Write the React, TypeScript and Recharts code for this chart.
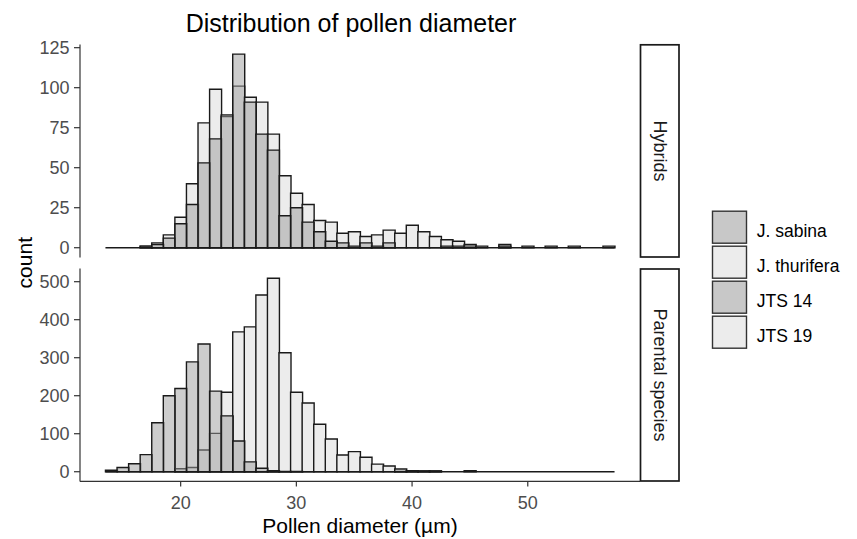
import { BarChart, Bar, XAxis, YAxis, ReferenceLine } from "recharts";

// histogram bins (centre of each 1 µm bin)
const bins = [
  14, 15, 16, 17, 18, 19, 20, 21, 22, 23, 24, 25, 26, 27, 28, 29, 30, 31, 32, 33, 34, 35,
  36, 37, 38, 39, 40, 41, 42, 43, 44, 45, 46, 47, 48, 49, 50, 51, 52, 53, 54, 55, 56, 57,
];

// Hybrids panel
const jts14 = [
  0, 0, 0, 1, 2, 6, 15, 27, 53, 68, 83, 121, 91, 71, 61, 20, 25, 16, 10, 4, 3, 1,
  3, 1, 3, 0, 0, 0, 0, 1, 1, 2, 1, 0, 1, 0, 1, 0, 1, 0, 1, 0, 0, 1,
];
const jts19 = [
  0, 0, 0, 1, 3, 8, 19, 40, 78, 99, 82, 101, 94, 91, 71, 45, 34, 27, 17, 16, 9, 10,
  7, 8, 11, 9, 14, 10, 7, 5, 4, 1, 0, 0, 2, 0, 0, 0, 0, 0, 0, 0, 0, 0,
];

// Parental species panel
const sabina = [
  4, 11, 21, 45, 129, 200, 219, 289, 336, 212, 147, 81, 26, 9, 3, 1, 1, 0, 0, 0, 0, 0,
  0, 0, 0, 1, 2, 2, 2, 0, 0, 3, 0, 0, 0, 0, 0, 0, 0, 0, 0, 0, 0, 0,
];
const thurifera = [
  0, 0, 0, 0, 0, 0, 8, 11, 57, 101, 209, 368, 381, 465, 509, 313, 209, 181, 125, 86, 44, 53,
  38, 20, 15, 7, 3, 2, 2, 0, 0, 0, 0, 0, 0, 0, 0, 0, 0, 0, 0, 0, 0, 0,
];

const xTicks = [20, 30, 40, 50];
const hybridTicks = [0, 25, 50, 75, 100, 125];
const parentalTicks = [0, 100, 200, 300, 400, 500];

const legendItems = [
  { name: "J. sabina", fill: "#c8c8c8" },
  { name: "J. thurifera", fill: "#ececec" },
  { name: "JTS 14", fill: "#c8c8c8" },
  { name: "JTS 19", fill: "#ececec" },
];

const FONT = '"Liberation Sans", Arial, sans-serif';
const xDomain = [bins[0] - 0.5 - 2.2, bins[bins.length - 1] + 0.5 + 2.2];

function expand(values: number[]) {
  const max = Math.max(...values);
  return [-max * 0.05, max * 1.05];
}

interface PanelProps {
  light: number[];
  dark: number[];
  ticks: number[];
  height: number;
  marginTop: number;
  showX: boolean;
}

function Panel({ light, dark, ticks, height, marginTop, showX }: PanelProps) {
  const data = bins.map((bin, i) => ({ bin, light: light[i], dark: dark[i] }));
  const yDomain = expand([...light, ...dark]);
  return (
    <BarChart
      width={640}
      height={height}
      data={data}
      barCategoryGap={0}
      barGap={0}
      margin={{ top: marginTop, right: 0, bottom: showX ? 0 : 0.6, left: 0 }}
    >
      <XAxis
        xAxisId="a"
        type="number"
        dataKey="bin"
        domain={xDomain}
        allowDataOverflow
        ticks={xTicks}
        interval={0}
        hide={!showX}
        height={57.6}
        axisLine={{ stroke: "#333", strokeWidth: 1.2 }}
        tickLine={{ stroke: "#333", strokeWidth: 1.2 }}
        tickSize={5}
        tickMargin={9.4}
        tick={{ fontSize: 18, fill: "#4d4d4d", fontFamily: FONT }}
      />
      <XAxis xAxisId="b" type="number" dataKey="bin" domain={xDomain} allowDataOverflow hide />
      <YAxis
        width={80}
        type="number"
        domain={yDomain}
        allowDataOverflow
        ticks={ticks}
        interval={0}
        axisLine={{ stroke: "#333", strokeWidth: 1.2 }}
        tickLine={{ stroke: "#333", strokeWidth: 1.2 }}
        tickSize={6}
        tickMargin={4.5}
        tick={{ fontSize: 18, fill: "#4d4d4d", fontFamily: FONT }}
      />
      <Bar
        xAxisId="a"
        dataKey="light"
        fill="#ececec"
        stroke="#1a1a1a"
        strokeWidth={1.4}
        isAnimationActive={false}
      />
      <Bar
        xAxisId="b"
        dataKey="dark"
        fill="#9c9c9c"
        fillOpacity={0.5}
        stroke="#1a1a1a"
        strokeWidth={1.4}
        isAnimationActive={false}
      />
      <ReferenceLine
        xAxisId="a"
        segment={[
          { x: bins[0] - 0.5, y: 0 },
          { x: bins[bins.length - 1] + 0.5, y: 0 },
        ]}
        stroke="#1a1a1a"
        strokeWidth={1.4}
      />
    </BarChart>
  );
}

export default function App() {
  return (
    <div
      style={{
        position: "absolute",
        left: 0,
        top: 0,
        width: 857,
        height: 539,
        background: "#fff",
        fontFamily: FONT,
      }}
    >
      <div style={{ position: "absolute", left: 0, top: 0 }}>
        <Panel light={jts19} dark={jts14} ticks={hybridTicks} height={258} marginTop={44.4} showX={false} />
      </div>
      <div style={{ position: "absolute", left: 0, top: 258 }}>
        <Panel light={thurifera} dark={sabina} ticks={parentalTicks} height={281} marginTop={10.6} showX />
      </div>

      {/* titles, facet strips and legend */}
      <svg
        width={857}
        height={539}
        style={{ position: "absolute", left: 0, top: 0, pointerEvents: "none" }}
        fontFamily={FONT}
      >
        <text x={351} y={31.5} textAnchor="middle" fontSize={25} fill="#000">
          Distribution of pollen diameter
        </text>
        <text x={360} y={533} textAnchor="middle" fontSize={21} fill="#000">
          Pollen diameter (µm)
        </text>
        <text transform="translate(31.5,262.7) rotate(-90)" textAnchor="middle" fontSize={21} fill="#000">
          count
        </text>

        <rect x={640.5} y={44.8} width={38.5} height={212.2} fill="#fff" stroke="#1a1a1a" strokeWidth={1.7} />
        <text
          transform="translate(660,150.9) rotate(90)"
          textAnchor="middle"
          dominantBaseline="central"
          fontSize={18}
          fill="#1a1a1a"
        >
          Hybrids
        </text>
        <rect x={640.5} y={269} width={38.5} height={212} fill="#fff" stroke="#1a1a1a" strokeWidth={1.7} />
        <text
          transform="translate(660,375) rotate(90)"
          textAnchor="middle"
          dominantBaseline="central"
          fontSize={18}
          fill="#1a1a1a"
        >
          Parental species
        </text>

        {legendItems.map((item, i) => (
          <g key={item.name}>
            <rect
              x={712.5}
              y={211.2 + i * 35}
              width={34}
              height={32}
              fill={item.fill}
              stroke="#333"
              strokeWidth={1.4}
            />
            <text x={756.7} y={237.3 + i * 35} fontSize={17.5} fill="#000">
              {item.name}
            </text>
          </g>
        ))}
      </svg>
    </div>
  );
}
